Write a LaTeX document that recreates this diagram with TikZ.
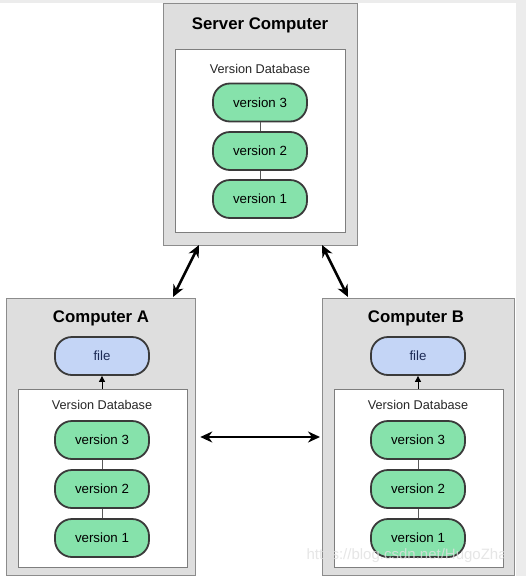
\documentclass[tikz,border=0pt]{standalone}
\usepackage{fontspec}
\setmainfont{Liberation Sans}
\usetikzlibrary{arrows.meta,positioning}
\definecolor{boxgray}{HTML}{DEDEDE}
\definecolor{boxline}{HTML}{8C8C8C}
\definecolor{pillgreen}{HTML}{86E2AB}
\definecolor{pillblue}{HTML}{C4D5F6}
\definecolor{pillline}{HTML}{3A3A3A}
\definecolor{filetext}{HTML}{1C2A55}
\definecolor{stripgray}{HTML}{ECECEC}
\tikzset{
  outerbox/.style={draw=boxline, fill=boxgray, line width=1.3pt},
  innerbox/.style={draw=boxline!90!black, fill=white, line width=1pt},
  title/.style={font=\fontsize{16.8}{18}\selectfont\bfseries, text=black},
  dblabel/.style={font=\fontsize{12.7}{14}\selectfont, text=black!85},
  pill/.style={draw=pillline, line width=1.8pt, rounded corners=17pt, minimum width=94pt, minimum height=38pt, inner sep=0pt, font=\fontsize{13.3}{15}\selectfont},
  verpill/.style={pill, fill=pillgreen},
  filepill/.style={pill, fill=pillblue, text=filetext},
  link/.style={draw=black!65, line width=0.9pt},
  syncarrow/.style={draw=black, line width=2.6pt, {Stealth[length=12pt,width=11pt]}-{Stealth[length=12pt,width=11pt]}},
  checkout/.style={draw=black, line width=1pt, -{Triangle[length=6pt,width=6pt]}}
}
\begin{document}
\begin{tikzpicture}[x=1pt,y=-1pt]
\useasboundingbox (0,0) rectangle (526,576);
\fill[stripgray] (0,0) rectangle (526,576);
\fill[white] (0,3) rectangle (516,576);

% Server
\node[outerbox, minimum width=194pt, minimum height=242pt, anchor=north west, inner sep=0pt] (srv) at (163,3) {};
\node[title] (srvt) at (260,25) {Server Computer};
\node[innerbox, minimum width=170pt, minimum height=183pt, anchor=north west, inner sep=0pt] (srvdb) at (175,49) {};
\node[dblabel] (srvdbl) at (260,69) {Version Database};
\node[verpill] (s3) at (260,102.5) {version 3};
\node[verpill] (s2) at (260,151) {version 2};
\node[verpill] (s1) at (260,199) {version 1};
\draw[link] (s3) -- (s2);
\draw[link] (s2) -- (s1);

% Computer A
\node[outerbox, minimum width=189pt, minimum height=277pt, anchor=north west, inner sep=0pt] (ca) at (6,298) {};
\node[title] (cat) at (101,318) {Computer A};
\node[filepill] (fa) at (102,356) {file};
\node[innerbox, minimum width=169pt, minimum height=178pt, anchor=north west, inner sep=0pt] (dba) at (18,389) {};
\node[dblabel] (dbal) at (102,405) {Version Database};
\node[verpill] (a3) at (102,440) {version 3};
\node[verpill] (a2) at (102,489) {version 2};
\node[verpill] (a1) at (102,538) {version 1};
\draw[link] (a3) -- (a2);
\draw[link] (a2) -- (a1);
\draw[checkout] (dba.north -| fa.south) -- (fa.south);

% Computer B
\node[outerbox, minimum width=192pt, minimum height=277pt, anchor=north west, inner sep=0pt] (cb) at (322,298) {};
\node[title] (cbt) at (416,318) {Computer B};
\node[filepill] (fb) at (418,356) {file};
\node[innerbox, minimum width=169pt, minimum height=178pt, anchor=north west, inner sep=0pt] (dbb) at (334,389) {};
\node[dblabel] (dbbl) at (418,405) {Version Database};
\node[verpill] (b3) at (418,440) {version 3};
\node[verpill] (b2) at (418,489) {version 2};
\node[verpill] (b1) at (418,538) {version 1};
\draw[link] (b3) -- (b2);
\draw[link] (b2) -- (b1);
\draw[checkout] (dbb.north -| fb.south) -- (fb.south);

% sync arrows
\coordinate (sa1) at (199,245);
\coordinate (sa2) at (173,297);
\coordinate (sb1) at (322,245);
\coordinate (sb2) at (348,297);
\draw[syncarrow] (sa1) -- (sa2);
\draw[syncarrow] (sb1) -- (sb2);
\draw[syncarrow] ([xshift=4pt]ca.east |- 0,437) -- ([xshift=-2pt]cb.west |- 0,437);

% watermark
\node[font=\fontsize{15}{17}\selectfont, text=black!12, opacity=0.8, anchor=west] (wm) at (303,556) {https://blog.csdn.net/HugoZha};
\end{tikzpicture}
\end{document}
